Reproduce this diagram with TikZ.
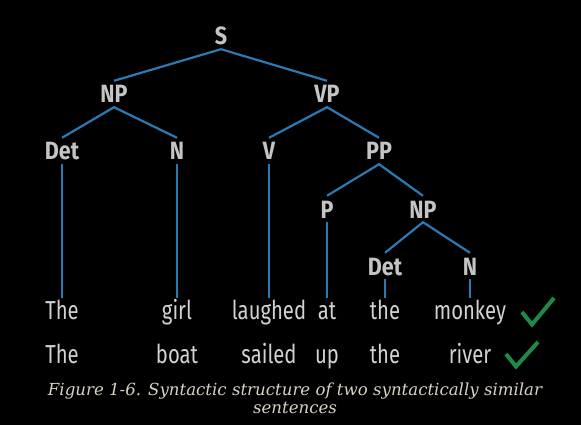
\documentclass[tikz,border=0pt]{standalone}
\usepackage{fontspec}
\newfontfamily\labfont[FakeStretch=0.86]{Fira Sans}
\newfontfamily\wordfont[FakeStretch=0.78]{Fira Sans}
\newfontfamily\capfont{DejaVu Serif}
\definecolor{edge}{HTML}{2A7AB4}
\definecolor{labc}{HTML}{C4C4C4}
\definecolor{wordc}{HTML}{D2D2D2}
\definecolor{capc}{HTML}{D8D2C4}
\definecolor{okc}{HTML}{1E8A48}
\begin{document}
\begin{tikzpicture}[x=1pt,y=-1pt,
  lab/.style={anchor=base,text=labc,font=\labfont\bfseries\fontsize{25}{25}\selectfont,
    text height=18pt,text depth=0pt,inner xsep=0pt,inner ysep=4pt},
  word/.style={anchor=base,text=wordc,font=\wordfont\fontsize{26}{26}\selectfont,
    text height=19pt,text depth=0pt,inner xsep=0pt,inner ysep=1.5pt},
  br/.style={draw=edge,line width=2.2pt},
  ok/.style={draw=okc,line width=4pt,line join=miter}]
\fill[black] (0,0) rectangle (581,425);
\useasboundingbox (0,0) rectangle (581,425);
% tree labels
\node[lab] (S) at (221,45) {S};
\node[lab] (NP) at (114,103) {NP};
\node[lab] (VP) at (327,103) {VP};
\node[lab] (Det) at (62,160) {Det};
\node[lab] (N) at (177,160) {N};
\node[lab] (V) at (269,160) {V};
\node[lab] (PP) at (379,160) {PP};
\node[lab] (P) at (327,218) {P};
\node[lab] (NPb) at (423,218) {NP};
\node[lab] (Detb) at (385,275) {Det};
\node[lab] (Nb) at (470,275) {N};
% words
\node[word] (w1) at (62,319) {The};
\node[word] (w2) at (177,319) {girl};
\node[word] (w3) at (269,319) {laughed};
\node[word] (w4) at (327,319) {at};
\node[word] (w5) at (385,319) {the};
\node[word] (w6) at (470,319) {monkey};
\node[word] (u1) at (62,363) {The};
\node[word] (u2) at (177,363) {boat};
\node[word] (u3) at (269,363) {sailed};
\node[word] (u4) at (327,363) {up};
\node[word] (u5) at (385,363) {the};
\node[word] (u6) at (470,363) {river};
% branches
\draw[br] (NP.north) -- (S.south) -- (VP.north);
\draw[br] (Det.north) -- (NP.south) -- (N.north);
\draw[br] (V.north) -- (VP.south) -- (PP.north);
\draw[br] (P.north) -- (PP.south) -- (NPb.north);
\draw[br] (Detb.north) -- (NPb.south) -- (Nb.north);
\draw[br] (Det.south) -- (w1.north);
\draw[br] (N.south) -- (w2.north);
\draw[br] (V.south) -- (w3.north);
\draw[br] (P.south) -- (w4.north);
\draw[br] (Detb.south) -- (w5.north);
\draw[br] (Nb.south) -- (w6.north);
% check marks
\draw[ok] (522,312) -- (532,324.5) -- (554,298);
\draw[ok] (506,354) -- (516,366.5) -- (538,342);
% caption
\node[text=capc,font=\capfont\itshape\fontsize{16.6}{18}\selectfont,align=center] (cap) at (295,398)
  {Figure 1-6. Syntactic structure of two syntactically similar\\sentences};
\end{tikzpicture}
\end{document}
